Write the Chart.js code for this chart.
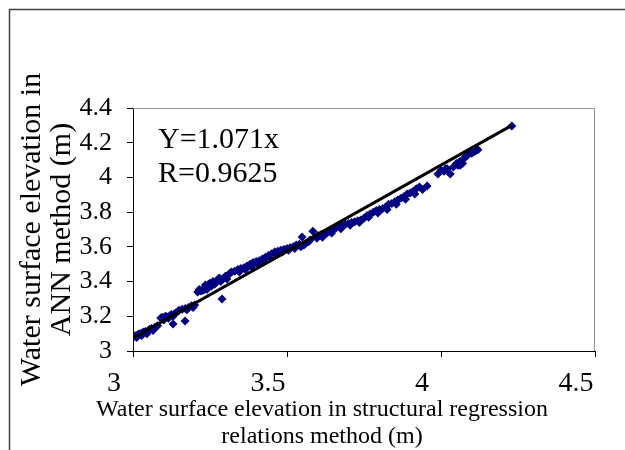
<!DOCTYPE html>
<html>
<head>
<meta charset="utf-8">
<script src="https://cdn.jsdelivr.net/npm/chart.js@4"></script>
<style>
  html, body { margin: 0; padding: 0; background: #fff; }
  #wrap { position: relative; width: 625px; height: 450px; }
</style>
</head>
<body>
<div id="wrap"><canvas id="chart"></canvas></div>
<script>
// ── Données ────────────────────────────────────────────────────────────────
const regressionElev = [
  3.000, 3.005, 3.010, 3.015, 3.020, 3.025, 3.030, 3.035, 3.040, 3.050,
  3.055, 3.060, 3.070, 3.075, 3.080, 3.090, 3.095, 3.100, 3.105, 3.110,
  3.120, 3.125, 3.130, 3.135, 3.140, 3.130, 3.169, 3.150, 3.160, 3.170,
  3.180, 3.190, 3.200, 3.210, 3.220, 3.225, 3.230, 3.240, 3.235, 3.245,
  3.250, 3.260, 3.270, 3.275, 3.280, 3.290, 3.300, 3.310, 3.315, 3.289,
  3.320, 3.330, 3.340, 3.350, 3.360, 3.370, 3.380, 3.390, 3.400, 3.410,
  3.420, 3.430, 3.440, 3.450, 3.460, 3.470, 3.480, 3.490, 3.500, 3.510,
  3.520, 3.530, 3.540, 3.560, 3.570, 3.549, 3.584, 3.597, 3.600, 3.610,
  3.620, 3.630, 3.640, 3.650, 3.660, 3.670, 3.680, 3.690, 3.700, 3.710,
  3.720, 3.730, 3.740, 3.750, 3.760, 3.770, 3.780, 3.790, 3.800, 3.810,
  3.820, 3.830, 3.840, 3.850, 3.860, 3.870, 3.880, 3.890, 3.900, 3.910,
  3.920, 3.930, 3.955, 3.990, 4.000, 4.010, 4.020, 4.030, 4.040, 4.050,
  4.060, 4.062, 4.070, 4.080, 4.070, 4.090, 4.100, 4.110, 4.120, 4.230,
  3.012, 3.028, 3.045, 3.065, 3.100, 3.115, 3.145, 3.175, 3.195, 3.215,
  3.232, 3.255, 3.265, 3.285, 3.305, 3.345, 3.365, 3.385, 3.405, 3.425,
  3.445, 3.465, 3.485, 3.505, 3.525, 3.545, 3.555, 3.575, 3.615, 3.645,
  3.675, 3.705, 3.735, 3.765, 3.795, 3.825, 3.855, 3.885, 3.915, 3.940,
  4.015, 4.055, 4.085
];
const annElev = [
  3.080, 3.085, 3.090, 3.092, 3.100, 3.098, 3.105, 3.110, 3.112, 3.120,
  3.125, 3.130, 3.135, 3.140, 3.145, 3.190, 3.195, 3.188, 3.200, 3.198,
  3.205, 3.210, 3.200, 3.215, 3.220, 3.155, 3.173, 3.235, 3.240, 3.245,
  3.250, 3.260, 3.265, 3.340, 3.345, 3.350, 3.352, 3.355, 3.380, 3.385,
  3.390, 3.400, 3.398, 3.410, 3.420, 3.415, 3.430, 3.440, 3.450, 3.300,
  3.455, 3.460, 3.470, 3.475, 3.480, 3.490, 3.500, 3.510, 3.515, 3.520,
  3.530, 3.540, 3.550, 3.560, 3.570, 3.575, 3.580, 3.585, 3.590, 3.595,
  3.600, 3.610, 3.615, 3.620, 3.630, 3.657, 3.690, 3.650, 3.665, 3.670,
  3.675, 3.680, 3.690, 3.700, 3.710, 3.720, 3.725, 3.730, 3.735, 3.740,
  3.745, 3.750, 3.755, 3.765, 3.780, 3.790, 3.800, 3.810, 3.815, 3.820,
  3.830, 3.845, 3.850, 3.860, 3.870, 3.880, 3.890, 3.905, 3.910, 3.920,
  3.935, 3.945, 3.950, 4.020, 4.040, 4.035, 4.050, 4.020, 4.060, 4.080,
  4.090, 4.070, 4.100, 4.120, 4.080, 4.140, 4.140, 4.150, 4.160, 4.296,
  3.078, 3.090, 3.100, 3.118, 3.178, 3.188, 3.228, 3.238, 3.250, 3.355,
  3.365, 3.375, 3.385, 3.400, 3.415, 3.455, 3.470, 3.485, 3.500, 3.515,
  3.535, 3.555, 3.570, 3.580, 3.590, 3.600, 3.610, 3.640, 3.655, 3.680,
  3.705, 3.725, 3.740, 3.770, 3.795, 3.815, 3.845, 3.875, 3.905, 3.930,
  4.050, 4.070, 4.125
];
const fitX = [3.0, 4.23];
const fitY = [3.075, 4.30];

const equationLines = ['Y=1.071x', 'R=0.9625'];
const yTitle = ['Water surface elevation in', 'ANN method (m)'];
const xTitle = ['Water surface elevation in structural regression', 'relations method (m)'];

const SERIF = "'Times New Roman', 'Liberation Serif', serif";

// ── Plugins de décor ───────────────────────────────────────────────────────
const decor = {
  id: 'decor',
  beforeDraw(chart) {
    const { ctx } = chart;
    ctx.save();
    ctx.strokeStyle = '#404040';
    ctx.lineWidth = 1.5;
    ctx.beginPath();
    ctx.moveTo(9.5, chart.height);
    ctx.lineTo(9.5, 9.5);
    ctx.lineTo(chart.width, 9.5);
    ctx.stroke();
    ctx.restore();
  },
  beforeDatasetsDraw(chart) {
    const { ctx, chartArea: a } = chart;
    ctx.save();
    ctx.strokeStyle = '#909090';
    ctx.lineWidth = 1;
    ctx.beginPath();
    ctx.moveTo(a.left, a.top + 0.5);
    ctx.lineTo(a.right - 0.5, a.top + 0.5);
    ctx.lineTo(a.right - 0.5, a.bottom);
    ctx.stroke();
    ctx.restore();
  },
  afterDraw(chart) {
    const { ctx, chartArea: a } = chart;
    ctx.save();
    ctx.fillStyle = '#000';
    ctx.textBaseline = 'alphabetic';
    ctx.textAlign = 'left';
    ctx.font = `30px ${SERIF}`;
    equationLines.forEach((t, i) => ctx.fillText(t, a.left + 25, a.top + 40 + i * 34));
    ctx.textAlign = 'center';
    ctx.textBaseline = 'middle';
    ctx.font = `24px ${SERIF}`;
    xTitle.forEach((t, i) => ctx.fillText(t, 322, 410 + i * 27));
    ctx.restore();
  },
};

const axisLine = { color: '#000', width: 1 };

new Chart(document.getElementById('chart'), {
  type: 'scatter',
  data: {
    datasets: [
      {
        type: 'line',
        label: 'fit',
        data: fitX.map((x, i) => ({ x, y: fitY[i] })),
        borderColor: '#000',
        borderWidth: 3,
        pointRadius: 0,
        fill: false,
      },
      {
        label: 'points',
        data: regressionElev.map((x, i) => ({ x, y: annElev[i] })),
        pointStyle: 'rectRot',
        pointRadius: 4.5,
        backgroundColor: '#000080',
        borderColor: '#000080',
        borderWidth: 0,
      },
    ],
  },
  options: {
    responsive: true, maintainAspectRatio: false, animation: false,
    layout: { padding: { left: 0, top: 108, right: 30, bottom: 0 } },
    plugins: { legend: { display: false }, tooltip: { enabled: false } },
    scales: {
      x: {
        type: 'linear', min: 3, max: 4.5,
        afterFit: s => { s.height = 99; },
        border: axisLine,
        grid: { drawOnChartArea: false, tickLength: 6, color: '#000' },
        ticks: {
          stepSize: 0.5, padding: 10, labelOffset: -19, color: '#000',
          font: { family: SERIF, size: 28 },
          callback: v => String(+v.toFixed(1)),
        },
      },
      y: {
        type: 'linear', min: 3, max: 4.4,
        afterFit: s => { s.width = 133; },
        border: axisLine,
        grid: { drawOnChartArea: false, tickLength: 6, color: '#000' },
        ticks: {
          stepSize: 0.2, padding: 15, color: '#000',
          font: { family: SERIF, size: 26 },
          callback: v => String(+v.toFixed(1)),
        },
        title: {
          display: true, text: yTitle, color: '#000',
          font: { family: SERIF, size: 30, lineHeight: 1.0 },
          padding: { top: 17, bottom: 0 },
        },
      },
    },
  },
  plugins: [decor],
});
</script>
</body>
</html>
